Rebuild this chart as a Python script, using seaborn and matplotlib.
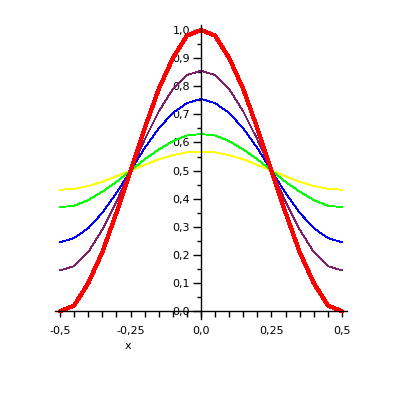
import numpy as np
import pandas as pd
import seaborn as sns
import matplotlib
matplotlib.use('Agg')
import matplotlib.pyplot as plt
from matplotlib.ticker import FixedLocator, MultipleLocator

x_vals = [-0.5, -0.45, -0.4, -0.35, -0.3, -0.25, -0.2, -0.15, -0.1, -0.05, 0.0,
          0.05, 0.1, 0.15, 0.2, 0.25, 0.3, 0.35, 0.4, 0.45, 0.5]

red = [0.00, 0.02, 0.10, 0.21, 0.35, 0.50, 0.65, 0.79, 0.90, 0.98, 1.00,
       0.98, 0.90, 0.79, 0.65, 0.50, 0.35, 0.21, 0.10, 0.02, 0.00]
purple = [0.145, 0.16, 0.21, 0.29, 0.39, 0.50, 0.61, 0.71, 0.79, 0.84, 0.855,
          0.84, 0.79, 0.71, 0.61, 0.50, 0.39, 0.29, 0.21, 0.16, 0.145]
blue = [0.245, 0.26, 0.295, 0.35, 0.42, 0.50, 0.58, 0.65, 0.705, 0.74, 0.755,
        0.74, 0.705, 0.65, 0.58, 0.50, 0.42, 0.35, 0.295, 0.26, 0.245]
green = [0.37, 0.375, 0.395, 0.425, 0.46, 0.50, 0.54, 0.575, 0.605, 0.625, 0.63,
         0.625, 0.605, 0.575, 0.54, 0.50, 0.46, 0.425, 0.395, 0.375, 0.37]
yellow = [0.432, 0.435, 0.445, 0.46, 0.48, 0.50, 0.52, 0.54, 0.555, 0.565, 0.568,
          0.565, 0.555, 0.54, 0.52, 0.50, 0.48, 0.46, 0.445, 0.435, 0.432]

x_ticks = [-0.5, -0.25, 0.0, 0.25, 0.5]
x_labels = ['-0,5', '-0,25', '0,0', '0,25', '0,5']
y_ticks = [0.0, 0.1, 0.2, 0.3, 0.4, 0.5, 0.6, 0.7, 0.8, 0.9, 1.0]
y_labels = ['0,0', '0,1', '0,2', '0,3', '0,4', '0,5', '0,6', '0,7', '0,8', '0,9', '1,0']

sns.set_style('white')
plt.rcParams['font.family'] = ['DejaVu Sans']
plt.rcParams['text.color'] = 'black'
plt.rcParams['xtick.color'] = 'black'
plt.rcParams['ytick.color'] = 'black'
plt.rcParams['axes.labelcolor'] = 'black'

fig = plt.figure(figsize=(3.98, 3.98), dpi=100)
ax = fig.add_axes([0.1382, 0.1985, 0.7337, 0.7387])

# draw back to front, red on top
series = [(yellow, '#FFFF00', 0.6), (green, '#00FF00', 0.6), (blue, '#0000FF', 0.6),
          (purple, '#80206A', 0.6), (red, '#FF0000', 2.3)]
for vals, col, lw in series:
    sns.lineplot(x=x_vals, y=vals, color=col, linewidth=lw, ax=ax,
                 antialiased=False, legend=False)

ax.set_xlim(-0.518, 0.518)
ax.set_ylim(-0.028, 1.018)

# axes cross at the origin, like the original plot
for s in ['top', 'right']:
    ax.spines[s].set_visible(False)
ax.spines['left'].set_position(('data', 0))
ax.spines['bottom'].set_position(('data', 0))
for s in ['left', 'bottom']:
    ax.spines[s].set_color('black')
    ax.spines[s].set_linewidth(1.0)

ax.xaxis.set_major_locator(FixedLocator(x_ticks))
ax.set_xticklabels(x_labels)
ax.xaxis.set_minor_locator(MultipleLocator(0.05))
ax.yaxis.set_major_locator(FixedLocator(y_ticks))
ax.set_yticklabels(y_labels)
ax.yaxis.set_minor_locator(MultipleLocator(0.05))

ax.tick_params(axis='x', which='both', direction='out', length=4.3, width=1,
               color='black', labelcolor='black', labelsize=8, pad=6.5, bottom=True)
ax.tick_params(axis='y', which='major', direction='out', length=5.8, width=1,
               color='black', labelcolor='black', labelsize=8, pad=2, left=True)
ax.tick_params(axis='y', which='minor', direction='out', length=2.9, width=1,
               color='black', left=True)

ax.set_xlabel('x', fontsize=8, color='black')
ax.xaxis.set_label_coords(0.25, -0.075)
ax.set_ylabel('')
ax.grid(False)

fig.savefig('out.png', dpi=100)
